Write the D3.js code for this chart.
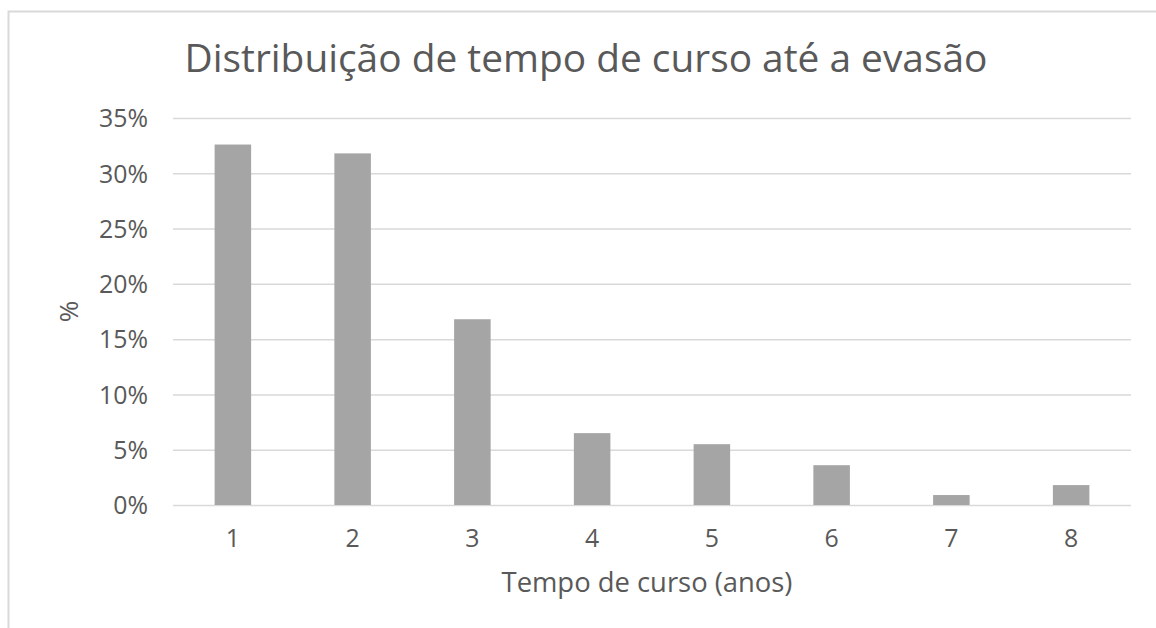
<!DOCTYPE html>
<html>
<head>
<meta charset="utf-8">
<script src="https://cdn.jsdelivr.net/npm/d3@7"></script>
<style>
  html, body { margin: 0; padding: 0; background: #fff; }
  svg { display: block; }
  text { font-family: "Open Sans", "Noto Sans", sans-serif; fill: #595959; }
</style>
</head>
<body>
<svg id="chart" width="1156" height="628"></svg>
<script>
const categories = ["1", "2", "3", "4", "5", "6", "7", "8"];
const values = [32.6, 31.8, 16.8, 6.5, 5.5, 3.6, 0.9, 1.8];
const yTicks = [0, 5, 10, 15, 20, 25, 30, 35];
const titleText = "Distribuição de tempo de curso até a evasão";
const xTitleText = "Tempo de curso (anos)";
const yTitleText = "%";

const svg = d3.select("#chart");
const W = 1156, H = 628;
const margin = { left: 173, right: W - 1131, top: 118, bottom: H - 505 };

// chart area border
svg.append("rect")
  .attr("x", 8.5).attr("y", 11.5)
  .attr("width", 1170).attr("height", 640)
  .attr("fill", "#fff").attr("stroke", "#d9d9d9").attr("stroke-width", 2);

const x = d3.scaleBand().domain(categories)
  .range([margin.left, W - margin.right]).paddingInner(0.695).paddingOuter(0.3475);
const y = d3.scaleLinear().domain([0, 35]).range([H - margin.bottom, margin.top]);

function fit(sel, targetWidth) {
  sel.style("font-size", "100px");
  const w = sel.node().getComputedTextLength();
  sel.style("font-size", (100 * targetWidth / w) + "px");
}

// gridlines
const grid = svg.append("g")
  .attr("transform", `translate(${margin.left},0)`)
  .call(d3.axisLeft(y).tickValues(yTicks).tickSize(-(W - margin.left - margin.right)).tickFormat(""));
grid.select(".domain").remove();
grid.selectAll("line").attr("stroke", "#d9d9d9").attr("stroke-width", 1.5);

// y tick labels
const yAxis = svg.append("g")
  .attr("transform", `translate(${148},0)`)
  .call(d3.axisLeft(y).tickValues(yTicks).tickSize(0).tickPadding(0).tickFormat(d => d + "%"));
yAxis.select(".domain").remove();
yAxis.selectAll("text").attr("fill", "#595959").attr("dy", "0.35em")
  .style("font-family", '"Open Sans", sans-serif');
const ref35 = yAxis.selectAll("text").filter(d => d === 35);
ref35.style("font-size", "100px");
const yw = ref35.node().getComputedTextLength();
yAxis.selectAll("text").style("font-size", (100 * 49 / yw) + "px");
const tickFs = 100 * 49 / yw;

// bars
svg.append("g").selectAll("rect").data(values).join("rect")
  .attr("x", (d, i) => x(categories[i]))
  .attr("y", d => y(d))
  .attr("width", x.bandwidth())
  .attr("height", d => y(0) - y(d))
  .attr("fill", "#a5a5a5");

// x tick labels
const xAxis = svg.append("g")
  .attr("transform", `translate(0,${538})`)
  .call(d3.axisBottom(x).tickSize(0).tickPadding(0));
xAxis.select(".domain").remove();
xAxis.selectAll("text").attr("fill", "#595959").attr("y", 0).attr("dy", "0.35em")
  .style("font-size", tickFs + "px").style("font-family", '"Open Sans", sans-serif');

// title
const title = svg.append("text")
  .attr("x", 586).attr("y", 72).attr("text-anchor", "middle").text(titleText);
fit(title, 803);

// x axis title
const xt = svg.append("text")
  .attr("x", 647).attr("y", 592).attr("text-anchor", "middle").text(xTitleText);
fit(xt, 291);

// y axis title
svg.append("text")
  .attr("transform", `translate(69,${(y(0) + y(35)) / 2}) rotate(-90)`)
  .attr("text-anchor", "middle").attr("dy", "0.35em")
  .style("font-size", (tickFs * 1.05) + "px")
  .text(yTitleText);
</script>
</body>
</html>
